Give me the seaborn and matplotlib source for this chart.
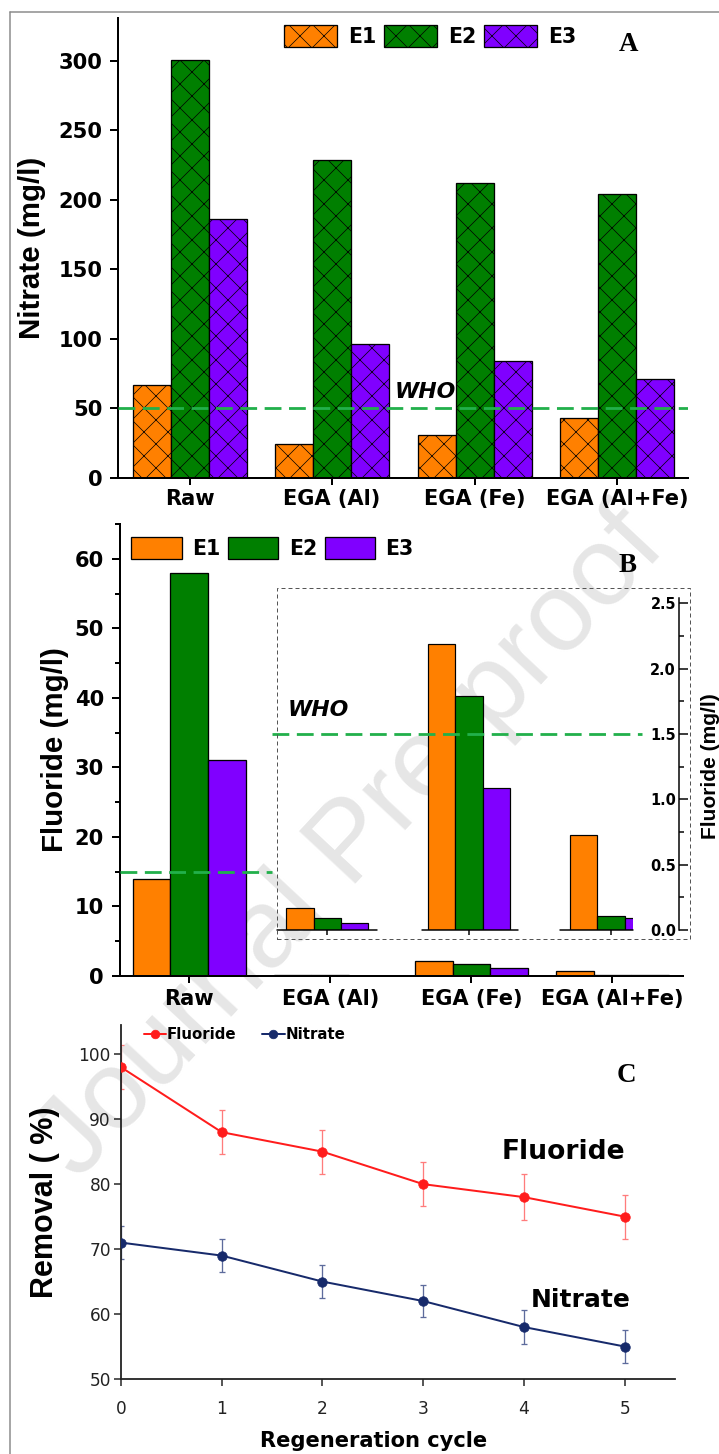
import matplotlib
matplotlib.use('Agg')
import matplotlib.pyplot as plt
import matplotlib.transforms as mtransforms
from matplotlib.lines import Line2D
from matplotlib.patches import Patch, Rectangle
from matplotlib.ticker import AutoMinorLocator
import seaborn as sns
import pandas as pd

# ---- data ----
sites = ['Raw', 'EGA (Al)', 'EGA (Fe)', 'EGA (Al+Fe)']
samples = ['E1', 'E2', 'E3']

nitrate_e1 = [67, 24, 31, 43]
nitrate_e2 = [301, 229, 212, 204]
nitrate_e3 = [186, 96, 84, 71]

fluoride_e1 = [14, 0.17, 2.19, 0.73]
fluoride_e2 = [58, 0.09, 1.79, 0.11]
fluoride_e3 = [31, 0.05, 1.09, 0.09]

who_nitrate = 50
who_fluoride = 1.5        # on the inset scale
who_fluoride_main = 15    # where the dashed line sits on the main B axis

cycles = [0, 1, 2, 3, 4, 5]
fluoride_removal = [98, 88, 85, 80, 78, 75]
fluoride_err = [3.4, 3.4, 3.4, 3.4, 3.5, 3.4]
nitrate_removal = [71, 69, 65, 62, 58, 55]
nitrate_err = [2.6, 2.5, 2.6, 2.5, 2.6, 2.6]

colors = {'E1': '#ff8000', 'E2': '#007f00', 'E3': '#8000ff'}
who_color = '#22b04b'
f_color = '#ff1c1c'
n_color = '#172a6b'


def long_df(e1, e2, e3):
    rows = []
    for s, vals in zip(samples, [e1, e2, e3]):
        for site, v in zip(sites, vals):
            rows.append({'site': site, 'sample': s, 'value': v})
    return pd.DataFrame(rows)


df_n = long_df(nitrate_e1, nitrate_e2, nitrate_e3)
df_f = long_df(fluoride_e1, fluoride_e2, fluoride_e3)
df_f_small = df_f[df_f['site'] != 'Raw']

sns.set_theme(style='ticks')
plt.rcParams['font.family'] = ['DejaVu Sans']
plt.rcParams['hatch.linewidth'] = 0.7
plt.rcParams['axes.linewidth'] = 2
for key in ['text.color', 'axes.labelcolor', 'xtick.color', 'ytick.color', 'axes.edgecolor']:
    plt.rcParams[key] = 'black'

W, H = 719, 1454
fig = plt.figure(figsize=(W / 72, H / 72), dpi=72)
fig.patch.set_facecolor('white')

LABEL_FONT = 'Liberation Sans'
SERIF = 'Liberation Serif'


def px_axes(left, top, right, bottom):
    return fig.add_axes([left / W, 1 - bottom / H, (right - left) / W, (bottom - top) / H])


def style_bar_axes(ax):
    sns.despine(ax=ax)
    ax.patch.set_facecolor('none')
    ax.tick_params(axis='both', direction='out', width=2, labelsize=21, colors='black')
    ax.tick_params(axis='y', length=8, pad=8)
    ax.tick_params(axis='x', length=7, pad=4)
    for lab in ax.get_xticklabels() + ax.get_yticklabels():
        lab.set_fontweight('bold')
    ax.set_xlabel('')


# ---------------- panel A ----------------
axA = px_axes(118.3, 18, 688.3, 477.7)
sns.barplot(data=df_n, x='site', y='value', hue='sample', order=sites, hue_order=samples,
            palette=colors, saturation=1, width=0.8, edgecolor='black', linewidth=1.3,
            errorbar=None, legend=False, ax=axA)
for bar in axA.patches:
    bar.set_hatch('x')
axA.set_xlim(-0.5, 3.5)
axA.set_ylim(0, 331)
axA.set_yticks([0, 50, 100, 150, 200, 250, 300])
style_bar_axes(axA)
axA.set_ylabel('Nitrate (mg/l)', fontfamily=LABEL_FONT, fontweight='bold', fontsize=29.5)
axA.yaxis.set_label_coords(-0.127, 0.5)
axA.axhline(who_nitrate, color=who_color, lw=2.8, ls=(0, (6, 2.7)), zorder=5)
axA.text(1.438, 61.8, 'WHO', fontsize=22, fontweight='bold', fontstyle='italic',
         ha='left', va='center')
axA.text(3.077, 311.8, 'A', fontfamily=SERIF, fontweight='bold', fontsize=27,
         ha='center', va='center')
handlesA = [Patch(facecolor=colors[s], edgecolor='black', hatch='x', lw=1.3, label=s)
            for s in samples]
axA.legend(handles=handlesA, loc='center', bbox_to_anchor=(0.547, 0.961), ncol=3,
           frameon=False, prop={'weight': 'bold', 'size': 20.5}, handlelength=2.6,
           handleheight=1.3, handletextpad=0.55, columnspacing=0.35, borderpad=0)

# ---------------- panel B ----------------
axB = px_axes(120, 524, 683, 976)
sns.barplot(data=df_f, x='site', y='value', hue='sample', order=sites, hue_order=samples,
            palette=colors, saturation=1, width=0.8, edgecolor='black', linewidth=1.3,
            errorbar=None, legend=False, ax=axB)
axB.set_xlim(-0.49, 3.5)
axB.set_ylim(0, 65)
axB.set_yticks([0, 10, 20, 30, 40, 50, 60])
axB.yaxis.set_minor_locator(AutoMinorLocator(2))
style_bar_axes(axB)
axB.tick_params(axis='y', which='minor', length=5, width=2)
axB.tick_params(axis='x', pad=6)
axB.set_ylabel('Fluoride (mg/l)', fontfamily=LABEL_FONT, fontweight='bold', fontsize=29.5)
axB.yaxis.set_label_coords(-0.0906, 0.5)
axB.plot([-0.49, 0.59], [who_fluoride_main, who_fluoride_main], color=who_color, lw=2.8,
         ls=(0, (6, 2.7)), zorder=5)
axB.text(0.696, 38.3, 'WHO', fontsize=22, fontweight='bold', fontstyle='italic',
         ha='left', va='center')
axB.text(3.104, 59.1, 'B', fontfamily=SERIF, fontweight='bold', fontsize=27,
         ha='center', va='center')
handlesB = [Patch(facecolor=colors[s], edgecolor='black', lw=1.3, label=s) for s in samples]
axB.legend(handles=handlesB, loc='center', bbox_to_anchor=(0.271, 0.947), ncol=3,
           frameon=False, prop={'weight': 'bold', 'size': 20.5}, handlelength=2.45,
           handleheight=1.25, handletextpad=0.5, columnspacing=0.4, borderpad=0)

# inset with the small fluoride values
fig.add_artist(Rectangle((277 / W, 1 - 939 / H), 413 / W, 351 / H, transform=fig.transFigure,
                         fill=False, edgecolor='#555555', lw=1, ls=(0, (4, 3))))
axI = px_axes(277, 598, 633, 930)
sns.barplot(data=df_f_small, x='site', y='value', hue='sample', order=sites, hue_order=samples,
            palette=colors, saturation=1, width=0.58, edgecolor='black', linewidth=1.2,
            errorbar=None, legend=False, ax=axI)
axI.set_xlim(0.645, 3.156)
axI.set_ylim(0, 2.54)
axI.patch.set_facecolor('none')
for side in ['top', 'left', 'bottom']:
    axI.spines[side].set_visible(False)
axI.spines['right'].set_position(('outward', 46))
axI.spines['right'].set_linewidth(1.5)
axI.yaxis.tick_right()
axI.set_yticks([0, 0.5, 1.0, 1.5, 2.0, 2.5])
axI.set_yticklabels(['0.0', '0.5', '1.0', '1.5', '2.0', '2.5'])
axI.yaxis.set_minor_locator(AutoMinorLocator(2))
axI.tick_params(axis='y', which='major', direction='out', length=9, width=1.5, pad=-12,
                labelsize=14.5)
axI.tick_params(axis='y', which='minor', direction='out', length=5, width=1.5)
for lab in axI.get_yticklabels():
    lab.set_fontweight('bold')
    lab.set_horizontalalignment('right')
axI.set_xticks([1, 2, 3])
axI.set_xticklabels([])
axI.tick_params(axis='x', direction='out', length=5, width=1.5)
axI.set_xlabel('')
axI.set_ylabel('')
blend = mtransforms.blended_transform_factory(axI.transData, axI.transAxes)
for x0, x1 in [(0.645, 1.35), (1.667, 2.344), (2.638, 3.156)]:
    axI.plot([x0, x1], [0, 0], color='black', lw=1.5, transform=blend, clip_on=False)
axI.axhline(who_fluoride, xmin=-0.014, xmax=1.025, color=who_color, lw=2.8,
            ls=(0, (6, 2.7)), clip_on=False, zorder=5)
fig.text(711 / W, 1 - 766 / H, 'Fluoride (mg/l)', rotation=90, fontfamily=LABEL_FONT,
         fontweight='bold', fontsize=21, ha='center', va='center')

# ---------------- panel C ----------------
axC = px_axes(121, 1025, 675, 1379)
sns.lineplot(x=cycles, y=fluoride_removal, color=f_color, marker='o', markersize=9.5,
             markeredgecolor=f_color, linewidth=2, label='Fluoride', ax=axC, zorder=3)
sns.lineplot(x=cycles, y=nitrate_removal, color=n_color, marker='o', markersize=9.5,
             markeredgecolor=n_color, linewidth=2, label='Nitrate', ax=axC, zorder=3)
axC.errorbar(cycles, fluoride_removal, yerr=fluoride_err, fmt='none', ecolor='#ff7c7c',
             elinewidth=1.3, capsize=3, capthick=1.3, zorder=2)
axC.errorbar(cycles, nitrate_removal, yerr=nitrate_err, fmt='none', ecolor='#5d6b9c',
             elinewidth=1.3, capsize=3, capthick=1.3, zorder=2)
axC.set_xlim(0, 5.5)
axC.set_ylim(50, 104.5)
axC.set_xticks(cycles)
axC.set_yticks([50, 60, 70, 80, 90, 100])
sns.despine(ax=axC)
axC.patch.set_facecolor('none')
for side in ['left', 'bottom']:
    axC.spines[side].set_linewidth(1.8)
    axC.spines[side].set_color('#222222')
axC.tick_params(axis='both', direction='out', length=7, width=1.5, labelsize=17,
                colors='#222222')
axC.tick_params(axis='y', pad=3)
axC.tick_params(axis='x', pad=14)
axC.set_ylabel('Removal ( %)', fontfamily=LABEL_FONT, fontweight='bold', fontsize=30.5)
axC.yaxis.set_label_coords(-0.110, 0.5)
axC.set_xlabel('Regeneration cycle', fontweight='bold', fontsize=21)
axC.xaxis.set_label_coords(0.455, -0.146)
axC.text(3.776, 84.9, 'Fluoride', fontsize=26.5, fontweight='bold', ha='left', va='center')
axC.text(4.07, 62.2, 'Nitrate', fontsize=25, fontweight='bold', ha='left', va='center')
axC.text(5.02, 96.8, 'C', fontfamily=SERIF, fontweight='bold', fontsize=27,
         ha='center', va='center')
axC.legend(loc='center', bbox_to_anchor=(0.223, 0.972), ncol=2, frameon=False,
           prop={'weight': 'bold', 'size': 15}, handlelength=1.5, handletextpad=0.05,
           columnspacing=1.7, borderpad=0, markerscale=0.9)

# watermark and outer frame
fig.text(352 / W, 1 - 845 / H, 'Journal Pre-proof', fontsize=112, color='#e6e6e6',
         rotation=47, ha='center', va='center', fontfamily=LABEL_FONT, zorder=-1)
fig.add_artist(Line2D([10 / W, 10 / W], [0, 1 - 12 / H], color='#8a8a8a', lw=1.5,
                      transform=fig.transFigure))
fig.add_artist(Line2D([10 / W, 1], [1 - 12 / H, 1 - 12 / H], color='#8a8a8a', lw=1.5,
                      transform=fig.transFigure))

fig.savefig('out.png', dpi=72)
